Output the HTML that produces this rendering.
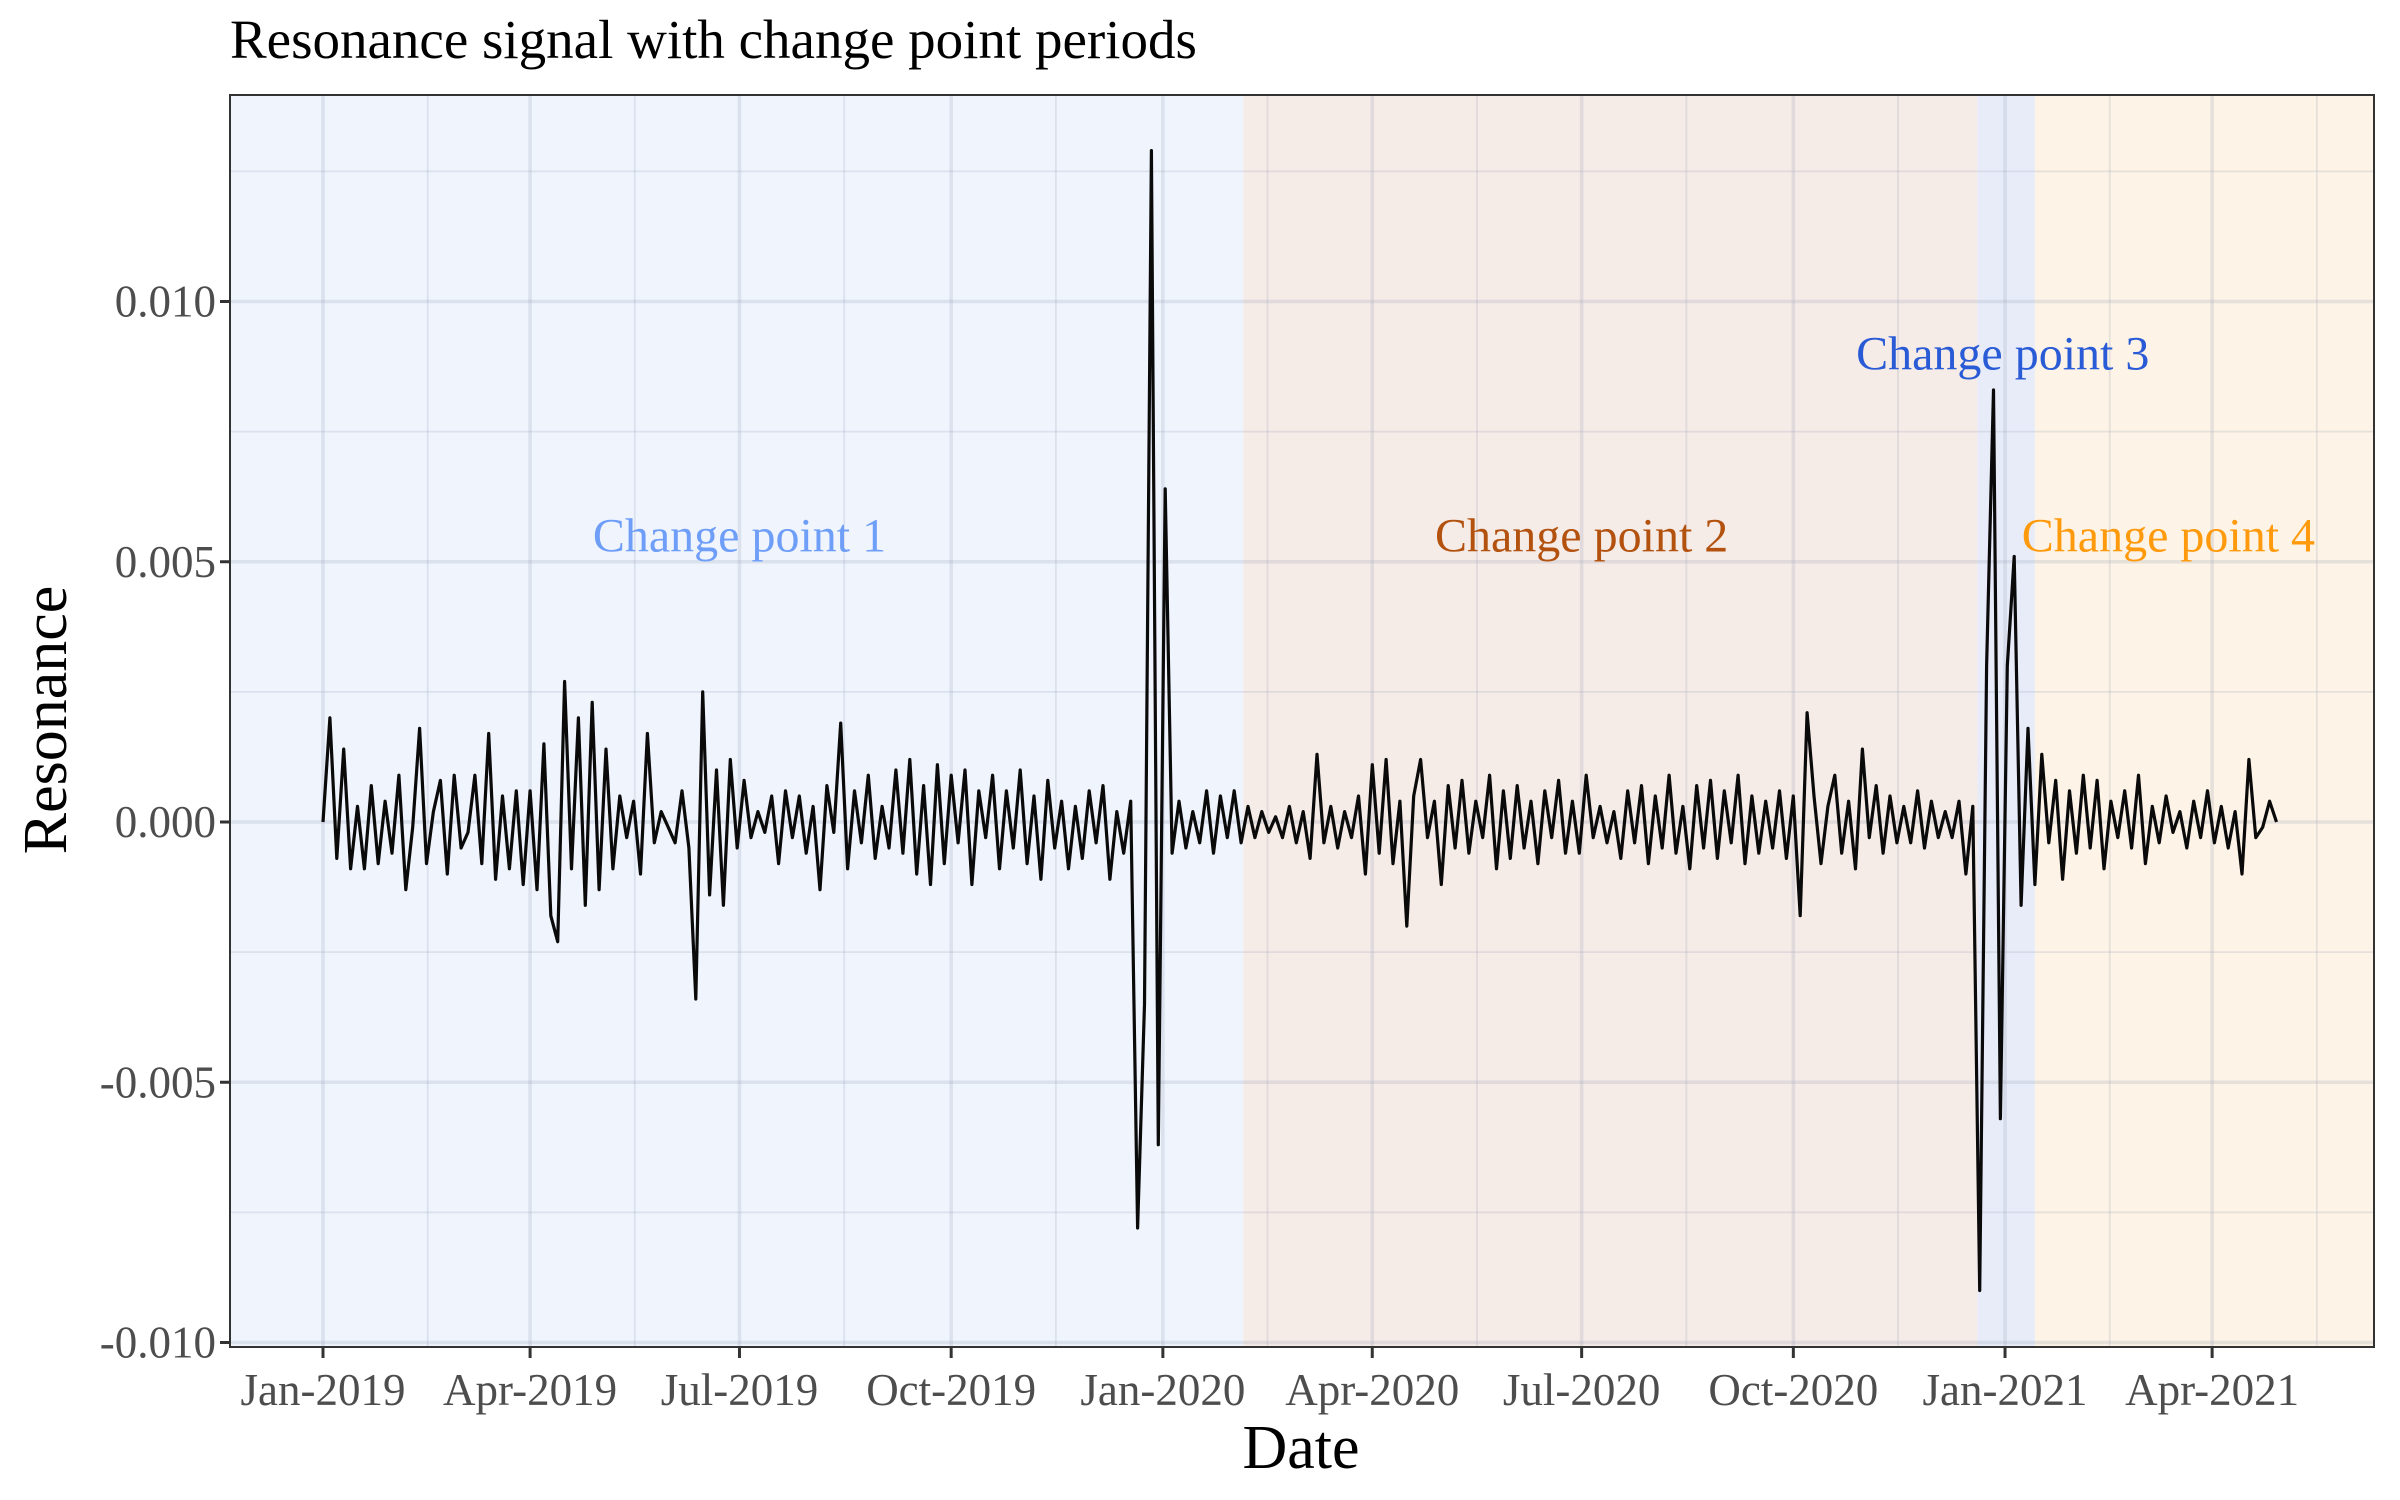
<!DOCTYPE html>
<html><head><meta charset="utf-8"><style>
html,body{margin:0;padding:0;background:#fff}
svg{display:block;font-family:"Liberation Serif",serif}
</style></head><body>
<svg id="chart" width="2400" height="1500" viewBox="0 0 2400 1500">
<text x="230" y="58" font-size="55" fill="#000">Resonance signal with change point periods</text>
<g id="bg"></g><g id="grid"></g><g id="labels"></g><g id="series"></g><g id="axes"></g>
<text x="1301" y="1468" font-size="62" text-anchor="middle" fill="#000">Date</text>
<text transform="translate(66,720) rotate(-90)" font-size="62" text-anchor="middle" fill="#000">Resonance</text>
</svg>
<script>
// data (values in units of 1e-3), one sample every 3 days starting 2019-01-01
const startDate = '2019-01-01';
const stepDays = 3;
const values = [
0,2.0,-0.7,1.4,-0.9,0.3,-0.9,0.7,-0.8,0.4,
-0.6,0.9,-1.3,-0.1,1.8,-0.8,0.2,0.8,-1.0,0.9,
-0.5,-0.2,0.9,-0.8,1.7,-1.1,0.5,-0.9,0.6,-1.2,
0.6,-1.3,1.5,-1.8,-2.3,2.7,-0.9,2.0,-1.6,2.3,
-1.3,1.4,-0.9,0.5,-0.3,0.4,-1.0,1.7,-0.4,0.2,
-0.1,-0.4,0.6,-0.5,-3.4,2.5,-1.4,1.0,-1.6,1.2,
-0.5,0.8,-0.3,0.2,-0.2,0.5,-0.8,0.6,-0.3,0.5,
-0.6,0.3,-1.3,0.7,-0.2,1.9,-0.9,0.6,-0.4,0.9,
-0.7,0.3,-0.5,1.0,-0.6,1.2,-1.0,0.7,-1.2,1.1,
-0.8,0.9,-0.4,1.0,-1.2,0.6,-0.3,0.9,-0.9,0.6,
-0.5,1.0,-0.8,0.5,-1.1,0.8,-0.5,0.4,-0.9,0.3,
-0.7,0.6,-0.4,0.7,-1.1,0.2,-0.6,0.4,-7.8,-3.5,
12.9,-6.2,6.4,-0.6,0.4,-0.5,0.2,-0.4,0.6,-0.6,
0.5,-0.3,0.6,-0.4,0.3,-0.3,0.2,-0.2,0.1,-0.3,
0.3,-0.4,0.2,-0.7,1.3,-0.4,0.3,-0.5,0.2,-0.3,
0.5,-1.0,1.1,-0.6,1.2,-0.8,0.4,-2.0,0.5,1.2,
-0.3,0.4,-1.2,0.7,-0.5,0.8,-0.6,0.4,-0.3,0.9,
-0.9,0.6,-0.7,0.7,-0.5,0.4,-0.8,0.6,-0.3,0.8,
-0.6,0.4,-0.6,0.9,-0.3,0.3,-0.4,0.2,-0.7,0.6,
-0.4,0.7,-0.8,0.5,-0.5,0.9,-0.6,0.3,-0.9,0.7,
-0.5,0.8,-0.7,0.6,-0.4,0.9,-0.8,0.5,-0.6,0.4,
-0.5,0.6,-0.7,0.5,-1.8,2.1,0.5,-0.8,0.3,0.9,
-0.6,0.4,-0.9,1.4,-0.3,0.7,-0.6,0.5,-0.4,0.3,
-0.4,0.6,-0.5,0.4,-0.3,0.2,-0.3,0.4,-1.0,0.3,
-9.0,3.0,8.3,-5.7,3.0,5.1,-1.6,1.8,-1.2,1.3,
-0.4,0.8,-1.1,0.6,-0.6,0.9,-0.5,0.8,-0.9,0.4,
-0.3,0.6,-0.5,0.9,-0.8,0.3,-0.4,0.5,-0.2,0.2,
-0.5,0.4,-0.3,0.6,-0.4,0.3,-0.5,0.2,-1.0,1.2,
-0.3,-0.1,0.4,0.0];
const periodStarts = ['2018-11-20','2020-02-05','2020-12-20','2021-01-14'];
const periodEnds = ['2020-02-05','2020-12-20','2021-01-14','2021-06-15'];
const periodNames = ['Change point 1','Change point 2','Change point 3','Change point 4'];
const periodLabelDates = ['2019-07-01','2020-07-01','2020-12-31','2021-03-13'];
const periodLabelValues = [5.5,5.5,9.0,5.5];
const xTickLabels = ['Jan-2019','Apr-2019','Jul-2019','Oct-2019','Jan-2020','Apr-2020','Jul-2020','Oct-2020','Jan-2021','Apr-2021'];
const xTickDates = ['2019-01-01','2019-04-01','2019-07-01','2019-10-01','2020-01-01','2020-04-01','2020-07-01','2020-10-01','2021-01-01','2021-04-01'];
const yTicks = [-10,-5,0,5,10];
const yTickLabels = ['-0.010','-0.005','0.000','0.005','0.010'];

const NS='http://www.w3.org/2000/svg';
const L=230,R=2374,T=95,B=1347;
const fills=['#eff4fd','#f5ebe7','#e8ecf8','#fdf3e6'];
const labelColors=['#6f9ef8','#b3520f','#2a5bd6','#ff9a0d'];
const DAY=86400000, t0=Date.parse('2019-01-01');
function dayOf(s){return (Date.parse(s)-t0)/DAY;}
function xs(d){return 323+d*2.301;}
function ys(v){return 822-v*52.05;}
function mk(tag,attrs,parent){const e=document.createElementNS(NS,tag);for(const k in attrs)e.setAttribute(k,attrs[k]);parent.appendChild(e);return e;}
const bg=document.getElementById('bg'),grid=document.getElementById('grid'),lab=document.getElementById('labels'),ser=document.getElementById('series'),ax=document.getElementById('axes');
periodStarts.forEach((s,i)=>{
  const x1=Math.max(L,xs(dayOf(s))),x2=Math.min(R,xs(dayOf(periodEnds[i])));
  const r=mk('rect',{x:x1,y:T,width:x2-x1,height:B-T,fill:fills[i]},bg);
  
  
});
const gc='rgba(150,160,180,0.22)';
for(let v=-12.5;v<=12.5;v+=2.5){const y=ys(v);if(y<T||y>B)continue;const major=Math.abs(v%5)<1e-9;
  const g=mk('line',{x1:L,x2:R,y1:y,y2:y,stroke:gc,'stroke-width':major?3.5:1.8},grid);
  
  }
for(let i=0;i<xTickDates.length;i++){
  const x=xs(dayOf(xTickDates[i]));
  const g=mk('line',{x1:x,x2:x,y1:T,y2:B,stroke:gc,'stroke-width':3.5},grid);
  
  
}
for(let i=-1;i<xTickDates.length;i++){
  const d=i<0?dayOf('2018-11-16'):dayOf(xTickDates[i])+45.5;const x=xs(d);if(x<L||x>R)continue;
  const g=mk('line',{x1:x,x2:x,y1:T,y2:B,stroke:gc,'stroke-width':1.8},grid);
  
  
}
periodNames.forEach((n,i)=>{
  const t=mk('text',{x:xs(dayOf(periodLabelDates[i])),y:ys(periodLabelValues[i])+16,'font-size':48,'text-anchor':'middle',fill:labelColors[i]},lab);
  t.textContent=n;
  
  
});
const pts=values.map((v,i)=>xs(i*stepDays).toFixed(1)+','+ys(v).toFixed(1)).join(' ');
const pl=mk('polyline',{points:pts,fill:'none',stroke:'#0a0a0a','stroke-width':3.2,'stroke-linejoin':'round'},ser);


const fr=mk('rect',{x:L,y:T,width:R-L,height:B-T,fill:'none',stroke:'#333','stroke-width':2},ax);


yTicks.forEach((v,i)=>{const y=ys(v);
  const tk=mk('line',{x1:L-10,x2:L,y1:y,y2:y,stroke:'#333','stroke-width':3},ax);
  
  
  const t=mk('text',{x:L-14,y:y+15,'font-size':45,'text-anchor':'end',fill:'#4d4d4d'},ax);t.textContent=yTickLabels[i];
  
  });
xTickDates.forEach((s,i)=>{const x=xs(dayOf(s));
  const tk=mk('line',{x1:x,x2:x,y1:B,y2:B+11,stroke:'#333','stroke-width':3},ax);
  
  
  const t=mk('text',{x:x,y:B+58,'font-size':45,'text-anchor':'middle',fill:'#4d4d4d'},ax);t.textContent=xTickLabels[i];
  
  });
</script>
</body></html>
